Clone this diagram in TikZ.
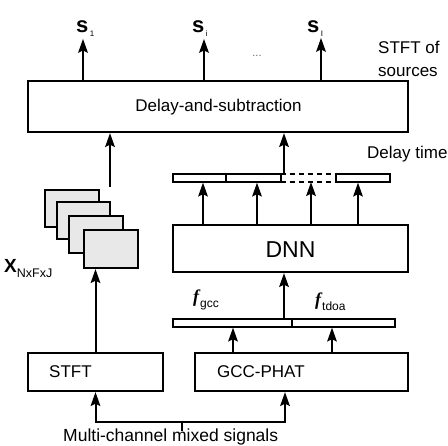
\documentclass[tikz,border=0pt]{standalone}
\usepackage{fontspec}
\setmainfont{Liberation Sans}
\newfontfamily\fserif{Liberation Serif}
\usetikzlibrary{arrows.meta}
\newcommand{\myfs}[1]{\fontsize{#1}{#1}\selectfont}
\newcommand{\ahup}[1]{\fill (#1) -- ++(-5,14) -- ++(5,-2.5) -- ++(5,2.5) -- cycle;}
\begin{document}
\begin{tikzpicture}[x=1pt,y=-1pt,
  box/.style={draw, line width=2.4pt, inner sep=0pt, rectangle},
  frm/.style={draw, line width=2.4pt, fill=black!9, inner sep=0pt},
  barseg/.style={draw, line width=1.5pt, inner sep=0pt, minimum height=8pt},
  arr/.style={line width=2pt, shorten >=6pt},
  ln/.style={line width=2pt},
  txt/.style={inner sep=0pt, anchor=base west, font=\myfs{17}},
]
\useasboundingbox (0,0) rectangle (448,446);

% main boxes
\node[box, minimum width=380pt, minimum height=51pt] (das) at (218,106.5) {};
\node[txt, anchor=base] (dast) at (218.5,112) {Delay-and-subtraction};
\node[box, minimum width=235pt, minimum height=47pt] (dnn) at (290.5,248.5) {};
\node[txt, anchor=base, font=\myfs{23}] (dnnt) at (290.5,258) {DNN};
\node[box, minimum width=135pt, minimum height=38pt] (stft) at (95.5,372) {};
\node[txt] (stftt) at (49,378) {STFT};
\node[box, minimum width=213pt, minimum height=38pt] (gcc) at (301.5,372) {};
\node[txt] (gcct) at (217,378) {GCC-PHAT};

% stacked frames
\node[frm, minimum width=54pt, minimum height=37pt] (f1) at (72,208.5) {};
\node[frm, minimum width=53pt, minimum height=37pt] (f2) at (83.5,220.5) {};
\node[frm, minimum width=54pt, minimum height=37pt] (f3) at (96,234.5) {};
\node[frm, minimum width=54pt, minimum height=38pt] (f4) at (111,249) {};

% delay time bar
\node[barseg, minimum width=53pt] (d1) at (199.5,178) {};
\node[barseg, minimum width=55pt] (d2) at (253.5,178) {};
\node[inner sep=0pt, minimum width=55pt, minimum height=8pt] (dd) at (308.5,178) {};
\node[barseg, minimum width=54pt] (d3) at (363,178) {};
\draw[line width=1.5pt, dash pattern=on 5pt off 4pt] (dd.north west) -- (dd.north east);
\draw[line width=1.5pt, dash pattern=on 5pt off 4pt] (dd.south west) -- (dd.south east);

% feature bar
\node[barseg, minimum width=119pt] (fa) at (232.5,323) {};
\node[barseg, minimum width=103pt] (fb) at (343.5,323) {};

% x positions
\coordinate (t1) at (83,39);
\coordinate (t2) at (204,39);
\coordinate (t3) at (321,38);
\coordinate (fin) at (110,187);
\coordinate (xd) at (284,0);
\coordinate (xa) at (203,0);
\coordinate (xb) at (257,0);
\coordinate (xc) at (311,0);
\coordinate (xe) at (358,0);
\coordinate (xf) at (284,0);
\coordinate (xg1) at (233,0);
\coordinate (xg2) at (332,0);
\coordinate (xg) at (285,0);
\coordinate (in) at (182,431);
\coordinate (jn) at (182,422);

% outputs
\draw[arr] (t1 |- das.north) -- (t1); \ahup{t1}
\draw[arr] (t2 |- das.north) -- (t2); \ahup{t2}
\draw[arr] (t3 |- das.north) -- (t3); \ahup{t3}

% into delay-and-subtraction
\draw[arr] (fin) -- (fin |- das.south); \ahup{fin |- das.south}
\draw[arr] (xd |- dd.north) -- (xd |- das.south); \ahup{xd |- das.south}

% DNN to delay bar
\draw[arr] (xa |- dnn.north) -- (xa |- d1.south); \ahup{xa |- d1.south}
\draw[arr] (xb |- dnn.north) -- (xb |- d2.south); \ahup{xb |- d2.south}
\draw[arr] (xc |- dnn.north) -- (xc |- dd.south); \ahup{xc |- dd.south}
\draw[arr] (xe |- dnn.north) -- (xe |- d3.south); \ahup{xe |- d3.south}

% features to DNN
\draw[arr] (xf |- fa.north) -- (xf |- dnn.south); \ahup{xf |- dnn.south}
\draw[arr] (xg1 |- gcc.north) -- (xg1 |- fa.south); \ahup{xg1 |- fa.south}
\draw[arr] (xg2 |- gcc.north) -- (xg2 |- fb.south); \ahup{xg2 |- fb.south}

% STFT to frames
\draw[arr] (stft.north) -- (stft.north |- f4.south); \ahup{stft.north |- f4.south}

% input
\draw[ln] (in) -- (jn);
\draw[arr] (jn) -| (stft.south); \ahup{stft.south}
\draw[arr] (jn) -| (xg |- gcc.south); \ahup{xg |- gcc.south}

% labels
\node[inner sep=0pt, anchor=base west] (s1) at (76,33) {\myfs{22}\bfseries s\hspace{1.5pt}\raisebox{-4pt}{\myfs{8}\mdseries 1}};
\node[inner sep=0pt, anchor=base west] (s2) at (192,33) {\myfs{22}\bfseries s\hspace{1.5pt}\raisebox{-4pt}{\myfs{8}\mdseries i}};
\node[inner sep=0pt, anchor=base west] (s3) at (307,33) {\myfs{22}\bfseries s\hspace{1.5pt}\raisebox{-4pt}{\myfs{8}\mdseries I}};
\node[inner sep=0pt, text=black!60, font=\myfs{11}] (dots) at (257,56) {...};
\node[txt] (so1) at (378,54) {STFT of};
\node[txt] (so2) at (378,77) {sources};
\node[txt] (dt) at (367,159) {Delay time};
\node[inner sep=0pt, anchor=base west] (xl) at (4,273) {\myfs{19}\bfseries X\raisebox{-5pt}{\myfs{12.5}\mdseries NxFxJ}};
\node[inner sep=0pt, anchor=base west] (fg) at (193,303) {{\fserif\myfs{18}\bfseries\itshape f}\hspace{1pt}\raisebox{-5pt}{\myfs{12}gcc}};
\node[inner sep=0pt, anchor=base west] (ft) at (315,306) {{\fserif\myfs{18}\bfseries\itshape f}\hspace{1pt}\raisebox{-5pt}{\myfs{12}tdoa}};
\node[txt, font=\myfs{17.5}] (mc) at (63,442) {Multi-channel mixed signals};
\end{tikzpicture}
\end{document}
